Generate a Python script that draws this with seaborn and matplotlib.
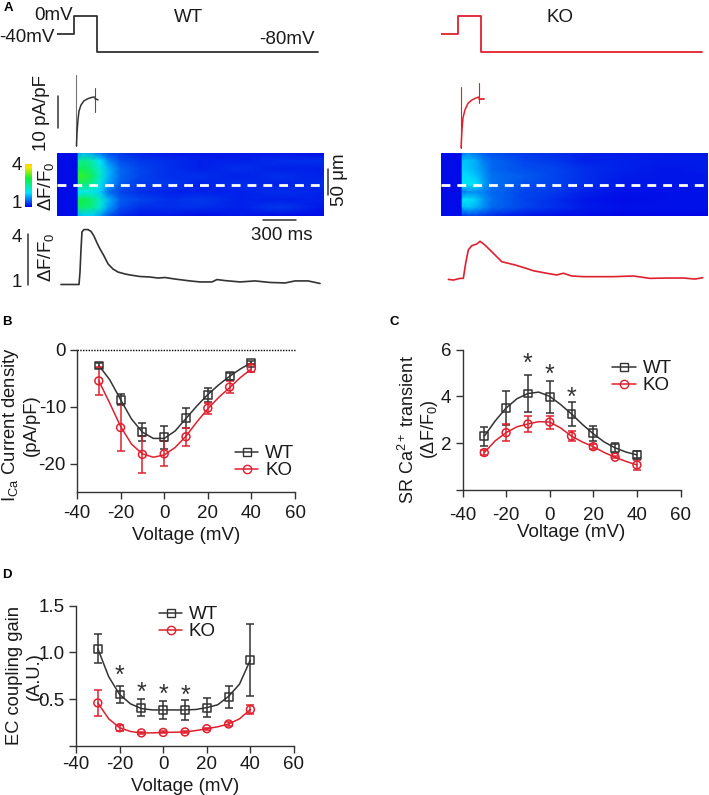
import matplotlib
matplotlib.use("Agg")
import matplotlib.pyplot as plt
from matplotlib.colors import LinearSegmentedColormap, Normalize
from matplotlib.cm import ScalarMappable
from matplotlib.lines import Line2D
import numpy as np
import seaborn as sns

sns.set_theme(style="ticks")
plt.rcParams['font.family'] = ['Liberation Sans', 'DejaVu Sans']
plt.rcParams['mathtext.default'] = 'regular'
plt.rcParams['mathtext.fontset'] = 'custom'
plt.rcParams['mathtext.rm'] = 'Liberation Sans'
plt.rcParams['axes.unicode_minus'] = False

W, H = 709, 795
BLACK = '#333333'
RED = '#e0202f'

# ---------- Panel A data ----------
protocol_t = [0, 155, 155, 364, 364, 2375]
protocol_mv = [-40, -40, 0, 0, -80, -80]

wt_spike_t = [177, 177]
wt_spike_i = [6.9, -15.3]
wt_cur_t = [177, 182, 191, 200, 218, 245, 282, 318, 345]
wt_cur_i = [-15.3, -11, -7, -4.4, -2.5, -1.2, -0.5, -0.1, 0]
wt_off_t = [345, 345]
wt_off_i = [2.8, -4.7]
wt_tail_t = [345, 373]
wt_tail_i = [-0.5, -0.9]

ko_spike_t = [182, 182]
ko_spike_i = [3.1, -15.9]
ko_cur_t = [182, 191, 200, 218, 245, 282, 318, 345]
ko_cur_i = [-15.9, -10, -6.5, -4, -2, -0.9, -0.3, 0]
ko_off_t = [345, 345]
ko_off_i = [4.4, -1.9]
ko_tail_t = [345, 390]
ko_tail_i = [-0.5, -0.5]

wt_df_t = [36, 200, 209, 218, 227, 245, 282, 309, 336, 364, 391, 427, 464, 509, 555, 618, 664,
           754, 845, 918, 982, 1073, 1209, 1300, 1409, 1454, 1527, 1664, 1800, 1936, 2073, 2164, 2282, 2391]
wt_df_v = [1.03, 1.03, 1.76, 3.06, 4.12, 4.26, 4.26, 4.15, 3.88, 3.47, 3.12, 2.71, 2.24, 1.94, 1.76, 1.65, 1.59,
           1.5, 1.47, 1.41, 1.44, 1.35, 1.24, 1.18, 1.18, 1.32, 1.26, 1.18, 1.24, 1.15, 1.12, 1.24, 1.24, 1.09]
ko_df_t = [67, 112, 173, 203, 224, 248, 279, 324, 355, 400, 461, 506, 552, 673, 764, 839, 961, 1052,
           1112, 1188, 1294, 1445, 1566, 1748, 1900, 2052, 2203, 2309, 2379]
ko_df_v = [1.33, 1.29, 1.39, 1.39, 2.27, 3.06, 3.31, 3.41, 3.57, 3.35, 2.96, 2.67, 2.37, 2.18, 2.0, 1.84, 1.69, 1.59,
           1.69, 1.53, 1.49, 1.49, 1.49, 1.53, 1.39, 1.41, 1.41, 1.35, 1.43]

scan_t = [0, 182, 195, 245, 318, 391, 464, 573, 754, 1027, 1300, 1664, 2027, 2427]
scan_pos = [0, 1, 2, 3, 4, 5, 6, 7, 8]
wt_scan = [
    [1.05, 1.05, 1.7, 1.8, 1.7, 1.5, 1.35, 1.25, 1.15, 1.1, 1.1, 1.1, 1.1, 1.05],
    [1.05, 1.05, 2.5, 2.6, 2.4, 2.0, 1.6, 1.35, 1.25, 1.2, 1.15, 1.15, 1.2, 1.2],
    [1.05, 1.05, 2.8, 2.8, 2.6, 2.2, 1.8, 1.45, 1.3, 1.2, 1.15, 1.2, 1.15, 1.15],
    [1.05, 1.05, 3.1, 3.1, 2.8, 2.3, 1.8, 1.45, 1.3, 1.2, 1.2, 1.15, 1.2, 1.15],
    [1.05, 1.05, 2.7, 2.7, 2.5, 2.1, 1.7, 1.4, 1.25, 1.25, 1.15, 1.2, 1.15, 1.2],
    [1.05, 1.05, 2.0, 2.1, 2.1, 1.9, 1.5, 1.3, 1.2, 1.15, 1.15, 1.15, 1.2, 1.15],
    [1.05, 1.05, 2.9, 2.9, 2.7, 2.3, 1.8, 1.4, 1.3, 1.2, 1.25, 1.15, 1.15, 1.15],
    [1.05, 1.05, 2.8, 2.7, 2.6, 2.2, 1.7, 1.35, 1.2, 1.2, 1.2, 1.15, 1.25, 1.1],
    [1.05, 1.05, 1.8, 1.9, 1.9, 1.7, 1.4, 1.2, 1.1, 1.1, 1.05, 1.1, 1.05, 1.05],
]
ko_scan = [
    [1.05, 1.05, 1.5, 1.6, 1.5, 1.4, 1.35, 1.3, 1.25, 1.2, 1.15, 1.12, 1.1, 1.1],
    [1.05, 1.05, 1.85, 1.85, 1.75, 1.55, 1.45, 1.4, 1.3, 1.25, 1.15, 1.15, 1.12, 1.12],
    [1.05, 1.05, 1.9, 1.85, 1.75, 1.6, 1.45, 1.4, 1.35, 1.3, 1.2, 1.15, 1.1, 1.12],
    [1.05, 1.05, 1.95, 1.95, 1.85, 1.65, 1.5, 1.45, 1.4, 1.3, 1.2, 1.12, 1.1, 1.1],
    [1.05, 1.05, 2.05, 2.1, 2.0, 1.7, 1.5, 1.45, 1.35, 1.3, 1.2, 1.1, 1.1, 1.1],
    [1.05, 1.05, 1.5, 1.6, 1.6, 1.55, 1.45, 1.4, 1.3, 1.25, 1.15, 1.08, 1.08, 1.08],
    [1.05, 1.05, 2.0, 2.05, 1.9, 1.65, 1.5, 1.4, 1.3, 1.2, 1.1, 1.05, 1.08, 1.08],
    [1.05, 1.05, 1.8, 1.85, 1.75, 1.6, 1.45, 1.4, 1.3, 1.2, 1.12, 1.08, 1.08, 1.08],
    [1.05, 1.05, 1.2, 1.3, 1.3, 1.25, 1.2, 1.15, 1.1, 1.05, 1.05, 1.03, 1.03, 1.03],
]

# ---------- Panels B, C, D data ----------
voltage = [-30, -20, -10, 0, 10, 20, 30, 40]
fit_voltage = [-30, -25, -20, -15, -10, -5, 0, 5, 10, 15, 20, 25, 30, 35, 40]

b_wt = [-2.8, -8.8, -14.5, -15.4, -12, -8, -4.7, -2.3]
b_wt_err = [0.5, 1.0, 1.6, 2.0, 1.8, 1.2, 0.6, 0.2]
b_ko = [-5.5, -13.7, -18.4, -18.3, -15.3, -10.3, -6.6, -3.3]
b_ko_err = [2.5, 4.1, 3.2, 2.2, 1.6, 1.0, 1.1, 0.7]
b_wt_fit = [-2.8, -5.3, -8.8, -12.2, -14.5, -15.6, -15.6, -14.3, -12.1, -9.9, -7.9, -6.2, -4.7, -3.4, -2.3]
b_ko_fit = [-5.5, -9.4, -13.5, -16.6, -18.3, -18.9, -18.5, -17.2, -15.2, -12.7, -10.4, -8.4, -6.7, -4.9, -3.4]

c_wt = [2.3, 3.5, 4.12, 3.97, 3.25, 2.42, 1.8, 1.5]
c_wt_err = [0.4, 0.73, 0.78, 0.68, 0.5, 0.33, 0.2, 0.15]
c_ko = [1.6, 2.45, 2.82, 2.9, 2.3, 1.85, 1.4, 1.07]
c_ko_err = [0.1, 0.35, 0.35, 0.28, 0.2, 0.1, 0.05, 0.22]
c_wt_fit = [2.3, 2.95, 3.5, 3.9, 4.12, 4.18, 4.0, 3.65, 3.25, 2.8, 2.4, 2.05, 1.8, 1.62, 1.5]
c_ko_fit = [1.6, 2.1, 2.45, 2.7, 2.82, 2.92, 2.9, 2.65, 2.3, 2.05, 1.85, 1.6, 1.4, 1.22, 1.07]
c_star_x = [-10, 0, 10]
c_star_y = [5.4, 4.93, 3.93]

d_wt = [1.04, 0.55, 0.41, 0.385, 0.385, 0.41, 0.525, 0.92]
d_wt_err = [0.155, 0.09, 0.09, 0.1, 0.11, 0.1, 0.115, 0.385]
d_ko = [0.46, 0.195, 0.14, 0.145, 0.15, 0.185, 0.235, 0.39]
d_ko_err = [0.135, 0.03, 0.01, 0.01, 0.01, 0.01, 0.025, 0.045]
d_wt_fit = [1.04, 0.74, 0.55, 0.45, 0.40, 0.385, 0.385, 0.385, 0.385, 0.39, 0.41, 0.44, 0.53, 0.66, 0.92]
d_ko_fit = [0.46, 0.29, 0.195, 0.155, 0.14, 0.14, 0.145, 0.147, 0.15, 0.165, 0.185, 0.205, 0.235, 0.29, 0.39]
d_star_x = [-20, -10, 0, 10]
d_star_y = [0.745, 0.565, 0.545, 0.535]

fig = plt.figure(figsize=(W / 100, H / 100), dpi=100, facecolor='white')


def px_axes(x0, y0, x1, y1, **kw):
    return fig.add_axes([x0 / W, 1 - y1 / H, (x1 - x0) / W, (y1 - y0) / H], **kw)


def label(x, y, s, size=13.5, **kw):
    kw.setdefault('ha', 'center')
    kw.setdefault('va', 'center')
    kw.setdefault('color', '#1a1a1a')
    fig.text(x / W, 1 - y / H, s, fontsize=size, **kw)


def trace(ax, t, v, color, lw):
    sns.lineplot(x=t, y=v, ax=ax, color=color, linewidth=lw, sort=False, estimator=None, legend=False)


scan_cmap = LinearSegmentedColormap.from_list(
    'scan', [(0, '#0000e6'), (1 / 3, '#00e6ff'), (2 / 3, '#12f038'), (0.93, '#ffe600'), (1, '#ffd000')])
scan_norm = Normalize(1, 4)


def recording(x0, color, scan, cur_sets, df_t, df_v):
    x1 = x0 + 267
    xlim = (0, 2427)
    ax = px_axes(x0, 14, x1, 54)
    trace(ax, protocol_t, protocol_mv, color, 1.3)
    ax.set_xlim(xlim)
    ax.set_ylim(-80 - 2.5 * 40 / 18, 2 * 40 / 18)
    ax.axis('off')

    ax = px_axes(x0, 70, x1, 150)
    for t, i, lw, c in cur_sets:
        trace(ax, t, i, c, lw)
    ax.set_xlim(xlim)
    ax.set_ylim(-16.56, 8.44)
    ax.axis('off')

    ax = px_axes(x0, 153, min(x1, W), 215.5)
    ax.pcolormesh(scan_t, scan_pos, np.array(scan), cmap=scan_cmap, norm=scan_norm, shading='gouraud')
    ax.set_xlim(xlim)
    ax.set_ylim(8, 0)
    ax.axhline(4.1, color='white', lw=2, dashes=(3.2, 2.5))
    ax.axis('off')

    ax = px_axes(x0, 222, x1, 290)
    trace(ax, df_t, df_v, color, 1.2)
    ax.set_xlim(xlim)
    ax.set_ylim(1 - 5 / 17, 1 + 63 / 17)
    ax.axis('off')


recording(57, BLACK,
          wt_scan,
          [(wt_spike_t, wt_spike_i, 0.8, '#777777'), (wt_cur_t, wt_cur_i, 1.1, BLACK),
           (wt_off_t, wt_off_i, 0.8, '#555555'), (wt_tail_t, wt_tail_i, 1.1, BLACK)],
          wt_df_t, wt_df_v)
recording(441, RED,
          ko_scan,
          [(ko_spike_t, ko_spike_i, 0.8, RED), (ko_cur_t, ko_cur_i, 1.1, RED),
           (ko_off_t, ko_off_i, 0.8, RED), (ko_tail_t, ko_tail_i, 1.3, RED)],
          ko_df_t, ko_df_v)

# Colour scale
cax = px_axes(25, 164, 32, 207)
cb = fig.colorbar(ScalarMappable(norm=scan_norm, cmap=scan_cmap), cax=cax)
cb.set_ticks([])
cb.outline.set_visible(False)

# Scale bars on a figure-wide overlay
ov = fig.add_axes([0, 0, 1, 1], zorder=5)
ov.set_xlim(0, W)
ov.set_ylim(H, 0)
ov.axis('off')
ov.patch.set_alpha(0)
for xs, ys in [((57.5, 57.5), (96, 128)), ((328, 328), (169, 195)), ((263, 296), (220, 220)), ((28, 28), (234, 285))]:
    ov.add_line(Line2D(xs, ys, color='#333333', lw=1.1))

label(54, 15, '0mV')
label(27, 37, '-40mV')
label(188, 18, 'WT')
label(287, 40, '-80mV')
label(560, 18, 'KO')
label(41, 113, '10 pA/pF', rotation=90)
label(339, 180, '50 μm', rotation=90)
label(282, 235, '300 ms')
label(17, 166, '4')
label(17, 204, '1')
label(46, 186, 'ΔF/F$_0$', rotation=90)
label(17, 238, '4')
label(17, 283, '1')
label(46, 257, 'ΔF/F$_0$', rotation=90)

for x, y, s in [(8, 8, 'A'), (7, 322, 'B'), (394, 322, 'C'), (7, 575, 'D')]:
    label(x, y, s, size=9.5, fontweight='bold', color='black')


def iv_panel(box, ylim, yticks, yticklabels, wt, wt_err, ko, ko_err, wt_fit, ko_fit,
             ylab, lab_x, lab_y, lab_size, lab_spacing, legend_at, tick_pad, xlab_pad):
    ax = px_axes(*box)
    for vals, errs, fit, color, marker in [(wt, wt_err, wt_fit, BLACK, 's'), (ko, ko_err, ko_fit, RED, 'o')]:
        sns.lineplot(x=fit_voltage, y=fit, ax=ax, color=color, linewidth=1.1, legend=False, clip_on=False)
        ax.errorbar(voltage, vals, yerr=errs, fmt='none', ecolor=color, elinewidth=1.1,
                    capsize=2.6, capthick=1.1, clip_on=False)
        sns.scatterplot(x=voltage, y=vals, ax=ax, color=color, marker=marker, s=32, legend=False,
                        clip_on=False, zorder=4)
        pts = ax.collections[-1]
        pts.set_facecolor('none')
        pts.set_edgecolor(color)
        pts.set_linewidth(1.1)
    ax.set_xlim(-40, 60)
    ax.set_ylim(*ylim)
    ax.set_xticks([-40, -20, 0, 20, 40, 60])
    ax.set_yticks(yticks)
    ax.set_yticklabels(yticklabels)
    ax.tick_params(labelsize=13.5, length=5, width=1.0, color=BLACK, labelcolor='#1a1a1a', pad=3)
    ax.tick_params(axis='x', pad=tick_pad)
    ax.set_xlabel('Voltage (mV)', fontsize=13.5, color='#1a1a1a', labelpad=xlab_pad)
    ax.set_ylabel(ylab, fontsize=lab_size, color='#1a1a1a', linespacing=lab_spacing)
    ax.yaxis.set_label_coords(lab_x, lab_y)
    sns.despine(ax=ax)
    for s in ('left', 'bottom'):
        ax.spines[s].set_linewidth(1.0)
        ax.spines[s].set_color(BLACK)
    ax.patch.set_alpha(0)
    handles = [Line2D([], [], color=BLACK, marker='s', mfc='none', mec=BLACK, ms=6, lw=1.1, label='WT'),
               Line2D([], [], color=RED, marker='o', mfc='none', mec=RED, ms=6, lw=1.1, label='KO')]
    ax.legend(handles=handles, loc='upper left', bbox_to_anchor=legend_at, frameon=False, fontsize=13.5,
              handlelength=1.25, handletextpad=0.35, labelspacing=0, borderpad=0, borderaxespad=0,
              labelcolor='#1a1a1a')
    return ax


ax_b = iv_panel((77, 349.5, 295, 492), (-25, 0), [-20, -10, 0], ['-20', '-10', '0'],
                b_wt, b_wt_err, b_ko, b_ko_err, b_wt_fit, b_ko_fit,
                'I$_{Ca}$ Current density\n(pA/pF)', -0.17, 0.47, 13.3, 1.15, (0.725, 0.33), 4, 4)
ax_b.axhline(0, color='black', lw=1, ls=(0, (1, 1)), zorder=1, clip_on=False)

ax_c = iv_panel((462.5, 349.5, 680.5, 490), (0, 6), [0, 2, 4, 6], ['', '2', '4', '6'],
                c_wt, c_wt_err, c_ko, c_ko_err, c_wt_fit, c_ko_fit,
                'SR Ca$^{2+}$ transient\n(ΔF/F$_0$)', -0.103, 0.43, 13, 1.05, (0.688, 0.925), 7, 0)
for x, y in zip(c_star_x, c_star_y):
    ax_c.text(x, y, '*', fontsize=18, ha='center', va='center', color=BLACK)

ax_d = iv_panel((76, 605.5, 294, 746), (0, 1.5), [0, 0.5, 1.0, 1.5], ['', '0.5', '1.0', '1.5'],
                d_wt, d_wt_err, d_ko, d_ko_err, d_wt_fit, d_ko_fit,
                'EC coupling gain\n(A.U.)', -0.151, 0.5, 13.2, 1.25, (0.38, 0.995), 2, 4)
for x, y in zip(d_star_x, d_star_y):
    ax_d.text(x, y, '*', fontsize=18, ha='center', va='center', color=BLACK)

fig.savefig('out.png', dpi=100, facecolor='white')
